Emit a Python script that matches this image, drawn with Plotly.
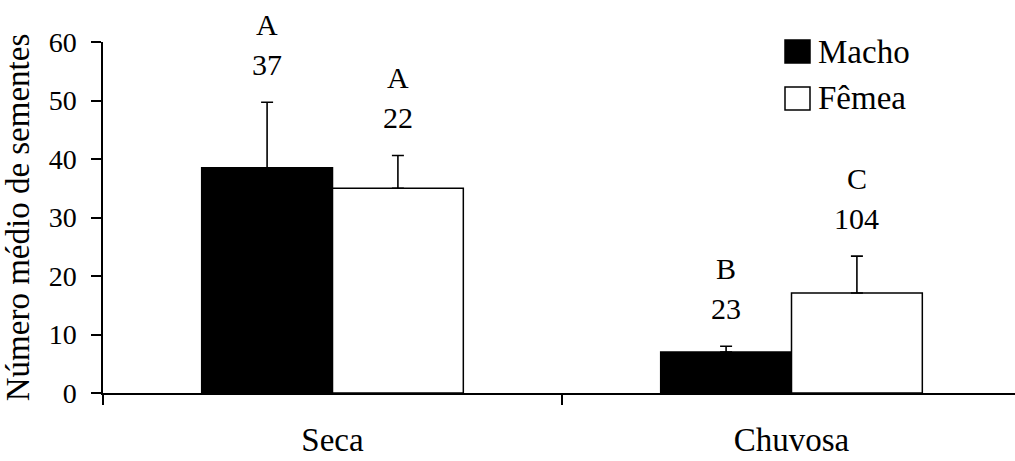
import plotly.graph_objects as go

# Mean number of seeds per season and sex, with upper error bars
estacoes = ["Seca", "Chuvosa"]
macho_media = [38.5, 7.0]
macho_erro = [11.2, 1.0]
femea_media = [35.0, 17.1]
femea_erro = [5.6, 6.3]

# Significance letters and sample sizes shown above each bar
macho_letras = ["A", "B"]
macho_n = ["37", "23"]
femea_letras = ["A", "C"]
femea_n = ["22", "104"]

FONT = "Liberation Serif"
W, H = 1015, 461
ML, MR, MT, MB = 103, 0, 42, 68
plot_w = W - ML - MR
plot_h = H - MT - MB
cat_px = 459  # pixel width of one category slot

fig = go.Figure()

err_style = dict(type="data", symmetric=False, color="black", thickness=1.6, width=6)

fig.add_trace(go.Bar(
    name="Macho", x=estacoes, y=macho_media,
    marker=dict(color="black", line=dict(color="black", width=1.5)),
    error_y=dict(array=macho_erro, arrayminus=[0] * len(macho_erro), **err_style),
    showlegend=False,
))
fig.add_trace(go.Bar(
    name="Fêmea", x=estacoes, y=femea_media,
    marker=dict(color="white", line=dict(color="black", width=1.5)),
    error_y=dict(array=femea_erro, arrayminus=[0] * len(femea_erro), **err_style),
    showlegend=False,
))

bargap = 0.43
half = (1 - bargap) / 4  # offset of each bar centre from the category centre

annots = []
for i in range(len(estacoes)):
    for off, media, erro, letra, n in (
        (-half, macho_media[i], macho_erro[i], macho_letras[i], macho_n[i]),
        (half, femea_media[i], femea_erro[i], femea_letras[i], femea_n[i]),
    ):
        topo = media + erro
        annots.append(dict(x=i + off, y=topo, xref="x", yref="y", text=n,
                           showarrow=False, yshift=38, yanchor="middle",
                           font=dict(family=FONT, size=30, color="black")))
        annots.append(dict(x=i + off, y=topo, xref="x", yref="y", text=letra,
                           showarrow=False, yshift=78, yanchor="middle",
                           font=dict(family=FONT, size=30, color="black")))


def px_x(px):
    return (px - ML) / plot_w


def px_y(py):
    return (H - MB - py) / plot_h


# Hand-drawn legend: squares plus labels
shapes = []
legend_items = [("Macho", "black", 40, 63), ("Fêmea", "white", 87, 110)]
for label, color, y0, y1 in legend_items:
    shapes.append(dict(type="rect", xref="paper", yref="paper",
                       x0=px_x(785), x1=px_x(810), y0=px_y(y1), y1=px_y(y0),
                       fillcolor=color, line=dict(color="black", width=1.5)))
    annots.append(dict(x=px_x(816), y=px_y((y0 + y1) / 2), xref="paper", yref="paper",
                       text=label, showarrow=False, xanchor="left", yanchor="middle",
                       font=dict(family=FONT, size=33, color="black")))

fig.update_layout(
    width=W, height=H,
    margin=dict(l=ML, r=MR, t=MT, b=MB, pad=0),
    paper_bgcolor="white", plot_bgcolor="white",
    barmode="group", bargap=bargap, bargroupgap=0,
    font=dict(family=FONT, color="black"),
    annotations=annots, shapes=shapes,
    showlegend=False,
)

fig.update_xaxes(
    type="category",
    range=[-0.5, -0.5 + plot_w / cat_px],
    showline=True, linecolor="black", linewidth=1.5,
    ticks="outside", tickson="boundaries", ticklen=10, tickwidth=1.5, tickcolor="black",
    showgrid=False, zeroline=False,
    tickfont=dict(family=FONT, size=33, color="black"),
    ticklabelstandoff=17,
)
fig.update_yaxes(
    range=[0, 60], dtick=10,
    showline=True, linecolor="black", linewidth=1.5,
    ticks="outside", ticklen=10, tickwidth=1.5, tickcolor="black",
    showgrid=False, zeroline=False,
    tickfont=dict(family=FONT, size=28, color="black"),
    ticklabelstandoff=9,
    title=dict(text="Número médio de sementes", standoff=11,
               font=dict(family=FONT, size=33, color="black")),
)

fig.write_html("out.html")
